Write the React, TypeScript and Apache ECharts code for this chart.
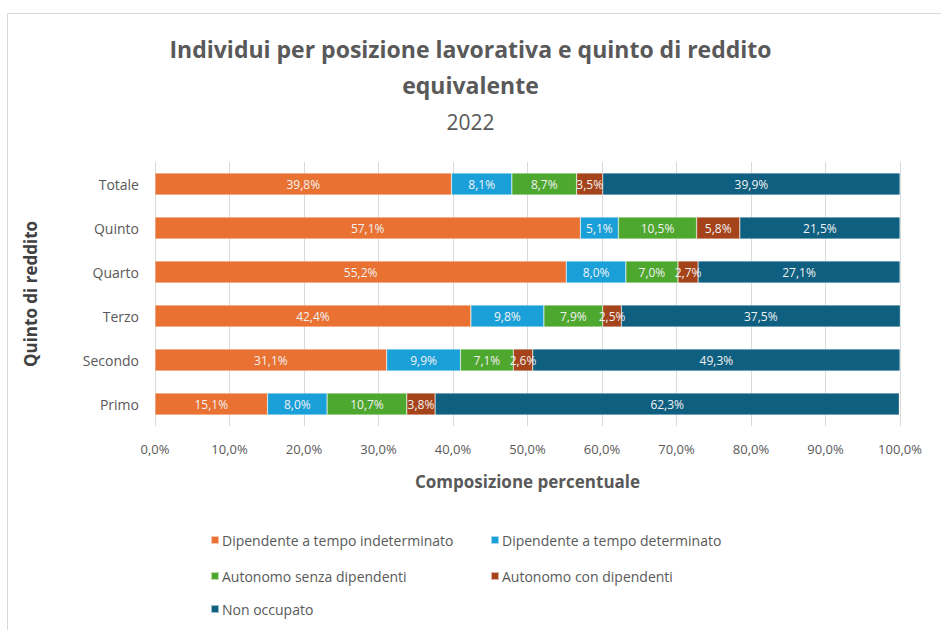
import React, { useEffect, useRef } from "react";
import * as echarts from "echarts";

const categories = ["Primo", "Secondo", "Terzo", "Quarto", "Quinto", "Totale"];
const seriesNames = [
  "Dipendente a tempo indeterminato",
  "Dipendente a tempo determinato",
  "Autonomo senza dipendenti",
  "Autonomo con dipendenti",
  "Non occupato",
];
const indeterminato = [15.1, 31.1, 42.4, 55.2, 57.1, 39.8];
const determinato = [8.0, 9.9, 9.8, 8.0, 5.1, 8.1];
const senzaDip = [10.7, 7.1, 7.9, 7.0, 10.5, 8.7];
const conDip = [3.8, 2.6, 2.5, 2.7, 5.8, 3.5];
const nonOccupato = [62.3, 49.3, 37.5, 27.1, 21.5, 39.9];
const xTicks = [0, 10, 20, 30, 40, 50, 60, 70, 80, 90, 100];

const colors = ["#E97132", "#1AA0D8", "#4EA72E", "#A5431A", "#0E5F80"];
const FONT = "Open Sans";

export default function App() {
  const ref = useRef<HTMLDivElement>(null);
  useEffect(() => {
    document.body.style.margin = "0";
    const chart = echarts.init(ref.current!, null, { renderer: "svg" });
    const values = [indeterminato, determinato, senzaDip, conDip, nonOccupato];
    const fmt = (v: number) => v.toFixed(1).replace(".", ",") + "%";
    const legendPos = [
      { left: 205, top: 528 },
      { left: 485, top: 528 },
      { left: 205, top: 564 },
      { left: 485, top: 564 },
      { left: 205, top: 597 },
    ];
    chart.setOption({
      animation: false,
      textStyle: { fontFamily: FONT },
      title: [
        {
          text: "Individui per posizione lavorativa e quinto di reddito\nequivalente",
          left: "center",
          top: 26,
          textStyle: { fontFamily: FONT, fontSize: 23, fontWeight: "bold", color: "#595959", lineHeight: 36 },
        },
        {
          text: "2022",
          left: "center",
          top: 106,
          textStyle: { fontFamily: FONT, fontSize: 21, fontWeight: "normal", color: "#595959" },
        },
      ],
      legend: seriesNames.map((n, i) => ({
        data: [n],
        left: legendPos[i].left,
        top: legendPos[i].top,
        itemWidth: 8,
        itemHeight: 8,
        itemGap: 4,
        icon: "rect",
        selectedMode: false,
        textStyle: { fontFamily: FONT, fontSize: 14, color: "#595959", padding: [0, 0, 0, -2] },
      })),
      grid: { left: 155, right: 41, top: 162, bottom: 204, containLabel: false },
      xAxis: {
        type: "value",
        min: 0,
        max: 100,
        interval: 10,
        name: "Composizione percentuale",
        nameLocation: "middle",
        nameGap: 47,
        nameTextStyle: { fontFamily: FONT, fontSize: 17, fontWeight: "bold", color: "#595959" },
        axisLine: { show: false },
        axisTick: { show: false },
        axisLabel: {
          margin: 16,
          fontSize: 13,
          color: "#595959",
          formatter: (v: number) => (xTicks.includes(v) ? fmt(v) : ""),
        },
        splitLine: { show: true, lineStyle: { color: "#D9D9D9", width: 1 } },
      },
      yAxis: {
        type: "category",
        data: categories,
        name: "Quinto di reddito",
        nameLocation: "middle",
        nameGap: 116,
        nameRotate: 90,
        nameTextStyle: { fontFamily: FONT, fontSize: 17, fontWeight: "bold", color: "#404040" },
        axisLine: { show: false },
        axisTick: { show: false },
        axisLabel: { margin: 16, fontSize: 14, color: "#595959" },
      },
      series: seriesNames.map((n, i) => ({
        name: n,
        type: "bar",
        stack: "total",
        barWidth: 22,
        data: values[i],
        itemStyle: { color: colors[i], borderColor: "rgba(255,255,255,0.6)", borderWidth: 0.5 },
        label: {
          show: true,
          position: "inside",
          color: "#F2F2F2",
          fontSize: 12,
          fontFamily: FONT,
          formatter: (p: any) => fmt(p.value),
        },
      })),
      graphic: [
        {
          type: "rect",
          shape: { x: 7.5, y: 13.5, width: 940, height: 640 },
          style: { fill: "none", stroke: "#D9D9D9", lineWidth: 1 },
          silent: true,
        },
      ],
    });
    return () => chart.dispose();
  }, []);
  return <div ref={ref} style={{ position: "absolute", left: 0, top: 0, width: 941, height: 630 }} />;
}
